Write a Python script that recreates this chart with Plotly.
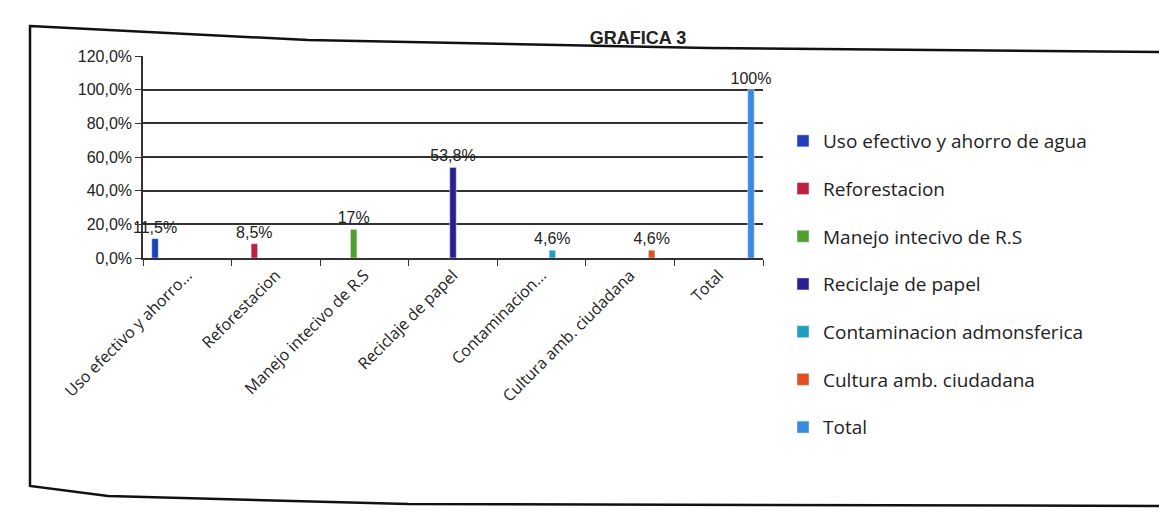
import plotly.graph_objects as go

categories = ["Uso efectivo y ahorro...", "Reforestacion", "Manejo intecivo de R.S",
              "Reciclaje de papel", "Contaminacion...", "Cultura amb. ciudadana", "Total"]
series_names = ["Uso efectivo y ahorro de agua", "Reforestacion", "Manejo intecivo de R.S",
                "Reciclaje de papel", "Contaminacion admonsferica", "Cultura amb. ciudadana", "Total"]
values = [0.115, 0.085, 0.17, 0.538, 0.046, 0.046, 1.0]
value_labels = ["11,5%", "8,5%", "17%", "53,8%", "4,6%", "4,6%", "100%"]
colors = ["#1f3fbf", "#c02040", "#50a030", "#2a2090", "#20a0c0", "#e05020", "#3a8ae0"]
y_ticks = [0, 0.2, 0.4, 0.6, 0.8, 1.0, 1.2]
y_ticktext = ["0,0%", "20,0%", "40,0%", "60,0%", "80,0%", "100,0%", "120,0%"]

fig = go.Figure()
for i, name in enumerate(series_names):
    y = [None] * len(categories)
    t = [""] * len(categories)
    y[i] = values[i]
    t[i] = value_labels[i]
    fig.add_trace(go.Bar(
        x=categories, y=y, name=name, text=t, textposition="outside",
        constraintext="none", cliponaxis=False, marker_color=colors[i], legendgroup=name,
        textfont=dict(family="Liberation Sans Narrow, Arial", size=16, color="#222"),
    ))

L, R, T, B = 135, 412, 48, 279
W, H = 1167, 529
pw, ph = W - L - R, H - T - B

def px(x):
    return (x - L) / pw

def py(y):
    return (H - B - y) / ph

frame = (f"M {px(22)},{py(18)} L {px(300)},{py(32)} L {px(700)},{py(40)} L {px(1165)},{py(44)} "
         f"L {px(1165)},{py(498)} L {px(400)},{py(496)} L {px(100)},{py(488)} L {px(22)},{py(478)} Z")

fig.update_layout(
    width=W, height=H,
    margin=dict(l=L, r=R, t=T, b=B),
    paper_bgcolor="white", plot_bgcolor="white",
    barmode="group", bargap=0.15, bargroupgap=0.4,
    title=dict(text="<b>GRAFICA 3</b>", x=px(630), xref="paper", xanchor="center",
               y=1 - 30 / H, yanchor="middle",
               font=dict(family="Liberation Sans Narrow, Arial", size=18, color="#222")),
    font=dict(family="Open Sans, Arial", color="#222"),
    showlegend=True,
    legend=dict(x=px(775), y=py(114), xanchor="left", yanchor="top",
                font=dict(family="Open Sans, Arial", size=19, color="#222"),
                tracegroupgap=20, itemwidth=30, bgcolor="rgba(0,0,0,0)",
                maxheight=480),
    xaxis=dict(tickangle=-45, tickfont=dict(family="Open Sans, Arial", size=16, color="#222"),
               showline=True, linecolor="#333", linewidth=1.5,
               ticks="outside", tickson="boundaries", ticklen=6, tickcolor="#333"),
    yaxis=dict(range=[0, 1.2], tickvals=y_ticks, ticktext=y_ticktext,
               tickfont=dict(family="Liberation Sans Narrow, Arial", size=16, color="#222"),
               showgrid=True, gridcolor="#333", gridwidth=1.5,
               showline=True, linecolor="#333", linewidth=1.5,
               ticks="outside", ticklen=6, tickcolor="#333", zeroline=False),
    shapes=[dict(type="path", path=frame, xref="paper", yref="paper",
                 line=dict(color="#111", width=2.5), layer="below")],
)

fig.write_html("out.html")
